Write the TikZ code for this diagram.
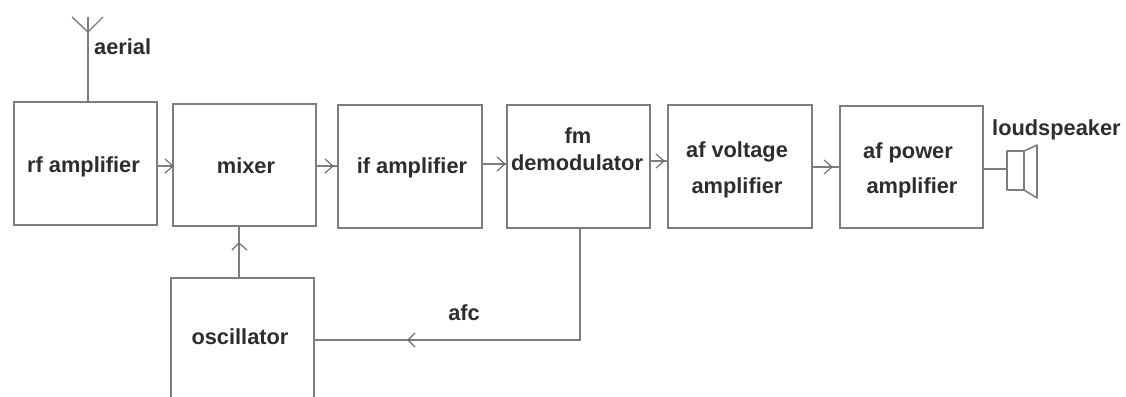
\documentclass[tikz,border=0pt]{standalone}
\usepackage{fontspec}
\setmainfont{Liberation Sans}
\definecolor{ln}{RGB}{125,125,125}
\definecolor{tx}{RGB}{45,45,45}
\tikzset{x=1pt,y=-1pt,
 blk/.style={draw=ln,line width=2pt,inner sep=0pt,outer sep=0pt},
 lbl/.style={text=tx,inner sep=0pt,anchor=base,font=\fontsize{21.8}{24}\selectfont\bfseries},
 wire/.style={draw=ln,line width=2pt},
 thinwire/.style={draw=ln,line width=1.4pt},
 tip/.style={draw=ln!85!black,line width=1.1pt,line cap=round,line join=round}}
\newcommand{\boxat}[5]{\node[blk,minimum width=#4 pt,minimum height=#5 pt,anchor=north west] (#1) at (#2,#3) {};}
\begin{document}
\begin{tikzpicture}
\useasboundingbox (0,0) rectangle (1126,396);
\clip (0,0) rectangle (1126,396);
\boxat{rf}{14}{102}{143}{123}
\boxat{mix}{173}{104}{143}{122}
\boxat{ifa}{338}{105}{144}{123}
\boxat{fm}{507}{105}{143}{123}
\boxat{afv}{668}{105}{144}{123}
\boxat{afp}{840}{106}{143}{122}
\boxat{osc}{171}{278}{143}{150}
\node[lbl] (trf) at (83.5,172) {rf amplifier};
\node[lbl] (tmix) at (246,173) {mixer};
\node[lbl] (tif) at (412,173) {if amplifier};
\node[lbl] (tfm) at (578,143) {fm};
\node[lbl] (tdem) at (577,170) {demodulator};
\node[lbl] (tafv) at (737,157) {af voltage};
\node[lbl] (tafva) at (737,193) {amplifier};
\node[lbl] (tafp) at (908,158) {af power};
\node[lbl] (tafpa) at (912,193) {amplifier};
\node[lbl] (tosc) at (240,344) {oscillator};
\node[lbl,anchor=base west] (aerial) at (94,55) {aerial};
\node[lbl,anchor=base west] (lsp) at (992,135) {loudspeaker};
\node[lbl] (afc) at (464,320) {afc};
\coordinate (antbase) at (88,102);
\coordinate (anttop) at (88,17);
\coordinate (antjoin) at (88,32);
\coordinate (antl) at (72,17);
\coordinate (antr) at (103,17);
\draw[wire] (rf.north -| antbase) -- (anttop);
\draw[thinwire] (antl) -- (antjoin) -- (antr);
\draw[thinwire] (rf.east |- 0,166) -- (mix.west |- 0,166);
\draw[thinwire] (mix.east |- 0,166) -- (ifa.west |- 0,166);
\draw[thinwire] (ifa.east |- 0,164) -- (fm.west |- 0,164);
\draw[thinwire] (fm.east |- 0,161) -- (afv.west |- 0,161);
\draw[thinwire] (afv.east |- 0,167) -- (afp.west |- 0,167);
\coordinate (oscup) at (239,278);
\draw[wire] (osc.north -| oscup) -- (mix.south -| oscup);
\coordinate (fmdown) at (580,228);
\coordinate (corner) at (580,340);
\draw[wire] (fm.south -| fmdown) -- (corner) -- (osc.east |- corner);
\draw[tip] (165,159) -- (173,166) -- (165,173);
\draw[tip] (325,159) -- (333,166) -- (325,173);
\draw[tip] (497,157) -- (505,164) -- (497,171);
\draw[tip] (656,154) -- (664,161) -- (656,168);
\draw[tip] (824,160) -- (832,167) -- (824,174);
\draw[tip] (232,250) -- (239,243) -- (247,250);
\draw[tip] (415,333) -- (408,340) -- (415,347);
\coordinate (spk) at (1007,169);
\draw[wire] (afp.east |- spk) -- (spk);
\draw[ln,line width=1.6pt,line join=round] (1007,151) rectangle (1024,190);
\draw[ln,line width=1.6pt,line join=round] (1024,151) -- (1037,145) -- (1037,198) -- (1024,190);
\end{tikzpicture}
\end{document}
